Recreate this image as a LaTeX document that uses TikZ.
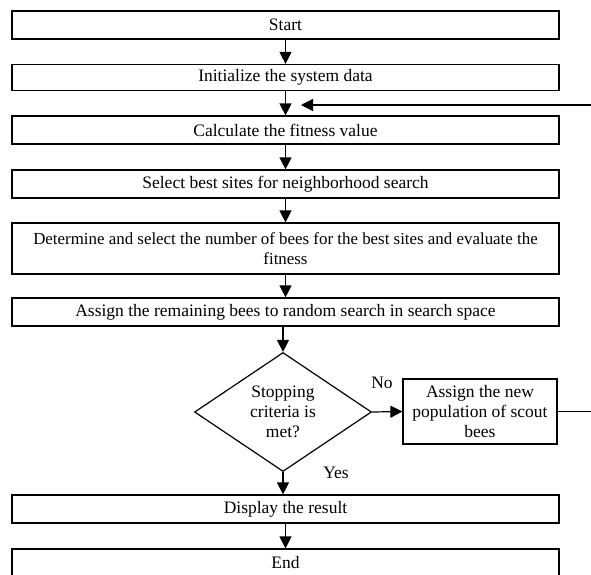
\documentclass[tikz,border=0pt]{standalone}
\usepackage{fontspec}
\setmainfont{Liberation Serif}
\usetikzlibrary{shapes.geometric,arrows.meta}
\begin{document}
\begin{tikzpicture}[x=1pt,y=-1pt,
  every node/.style={font=\fontsize{17.5}{20}\selectfont, inner sep=0pt},
  stepbox/.style={draw, line width=1.2pt, minimum width=547pt, minimum height=28pt, align=center},
  decision/.style={draw, line width=1.2pt, diamond, minimum width=177pt, minimum height=119pt, align=center},
  flow/.style={line width=1.2pt, -{Triangle[length=12pt,width=12pt]}},
  plain/.style={line width=1.2pt}]
  \useasboundingbox (0,0) rectangle (591,574);

  % main column of steps
  \node[stepbox] (start) at (285.5,25) {Start};
  \node[stepbox, minimum height=26pt] (init) at (285.5,77.5) {Initialize the system data};
  \node[stepbox] (calc) at (285.5,130) {Calculate the fitness value};
  \node[stepbox] (sel) at (285.5,184) {Select best sites for neighborhood search};
  \node[stepbox, minimum height=51pt, font=\fontsize{16.9}{20}\selectfont] (det) at (285.5,248.5)
    {Determine and select the number of bees for the best sites and evaluate the\\fitness};
  \node[stepbox] (rem) at (285.5,312) {Assign the remaining bees to random search in search space};
  \node[decision] (stop) at (283,412) {Stopping\\criteria is\\met?};
  \node[draw, line width=1.2pt, minimum width=154pt, minimum height=65pt, align=center]
    (scout) at (480,411.5) {Assign the new\\population of scout\\bees};
  \node[stepbox] (disp) at (285.5,509) {Display the result};
  \node[stepbox] (fin) at (285.5,563) {End};

  % loop back to the fitness evaluation
  \coordinate (loopR) at (597,411.5);
  \coordinate (loopT) at (597,105);
  \coordinate (loopIn) at (301,105);

  % connectors
  \draw[flow] (start) -- (init);
  \draw[flow] (init) -- (calc);
  \draw[flow] (calc) -- (sel);
  \draw[flow] (sel) -- (det);
  \draw[flow] (det) -- (rem);
  \draw[flow] (rem.south -| stop) -- (stop.north);
  \draw[flow] (stop.east) -- (scout.west);
  \draw[flow] (stop.south) -- (disp.north -| stop);
  \draw[flow] (disp) -- (fin);
  \draw[plain] (scout.east) -- (loopR) -- (loopT);
  \draw[flow] (loopT) -- (loopIn);

  % branch labels
  \node (no) at (382,383) {No};
  \node (yes) at (336,473) {Yes};
\end{tikzpicture}
\end{document}
